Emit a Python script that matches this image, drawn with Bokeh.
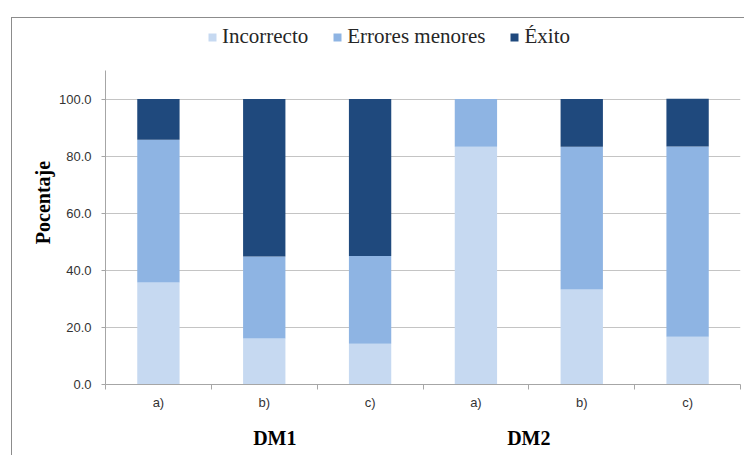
from bokeh.plotting import figure
from bokeh.models import (ColumnDataSource, Range1d, FixedTicker, LinearAxis, Legend,
                          LegendItem, NumeralTickFormatter)
from bokeh.embed import file_html
from bokeh.resources import INLINE

# ---- data ----
groups = ["DM1", "DM2"]
items = ["a)", "b)", "c)", "a)", "b)", "c)"]
series = ["Incorrecto", "Errores menores", "Éxito"]
incorrecto = [35.7, 16.1, 14.3, 83.3, 33.3, 16.7]
errores = [50.0, 28.7, 30.7, 16.7, 50.0, 66.7]
exito = [14.3, 55.2, 55.0, 0.0, 16.7, 16.7]
y_ticks = [0, 20, 40, 60, 80, 100]
y_label = "Pocentaje"
y_axis_max = 110
group_label_pos = [1.6, 4]

colors = ["#C6D9F1", "#8EB4E3", "#1F497D"]

x = [i + 0.5 for i in range(len(items))]
source = ColumnDataSource(dict(x=x, Incorrecto=incorrecto, Errores=errores, Exito=exito))

W, H = 744, 455
# frame extends above the value axis so the legend can live inside it
frame_top, axis_top, frame_bottom = 20, 70, 384  # canvas pixels
y_end = y_axis_max * (frame_bottom - frame_top) / (frame_bottom - axis_top)

p = figure(width=W, height=H, output_backend="svg", toolbar_location=None,
           x_range=Range1d(0, len(items)), y_range=Range1d(0, y_end),
           min_border_left=105, min_border_right=4, min_border_top=frame_top,
           min_border_bottom=H - frame_bottom, x_axis_type=None)
p.outline_line_color = None
p.background_fill_color = "white"
p.border_fill_color = None
# chart outer border (left and top edges)
p.styles = {"box-shadow": "inset 11px 17px 0 0 #ffffff, inset 12px 18px 0 0 #8c8c8c"}

rs = p.vbar_stack(["Incorrecto", "Errores", "Exito"], x="x", width=0.4, source=source,
                  color=colors, line_color=None)

# y axis
yax = p.yaxis[0]
yax.bounds = (0, y_axis_max)
yax.ticker = FixedTicker(ticks=y_ticks)
yax.formatter = NumeralTickFormatter(format="0.0")
yax.major_label_text_font = "Liberation Sans"
yax.major_label_text_font_size = "13px"
yax.major_label_text_color = "#333333"
yax.major_label_standoff = 10
yax.major_tick_out = 4
yax.major_tick_in = 0
yax.minor_tick_out = 0
yax.minor_tick_in = 0
yax.axis_line_color = "#a6a6a6"
yax.major_tick_line_color = "#a6a6a6"
yax.axis_label = y_label
yax.axis_label_text_font = "Liberation Serif"
yax.axis_label_text_font_style = "bold"
yax.axis_label_text_font_size = "20px"
yax.axis_label_text_color = "#000000"
yax.axis_label_standoff = 2

p.ygrid.ticker = FixedTicker(ticks=y_ticks)
p.ygrid.grid_line_color = "#c4c4c4"
p.xgrid.grid_line_color = None

# x axis with item labels
xax = LinearAxis(ticker=FixedTicker(ticks=x, minor_ticks=list(range(len(items) + 1))),
                 major_label_overrides={xv: lab for xv, lab in zip(x, items)})
xax.major_tick_out = 0
xax.major_tick_in = 0
xax.minor_tick_out = 5
xax.minor_tick_in = 0
xax.minor_tick_line_color = "#a6a6a6"
xax.axis_line_color = "#a6a6a6"
xax.major_label_text_font = "Liberation Sans"
xax.major_label_text_font_size = "13px"
xax.major_label_text_color = "#333333"
xax.major_label_standoff = 5
p.add_layout(xax, "below")

# group labels axis
gax = LinearAxis(ticker=FixedTicker(ticks=group_label_pos),
                 major_label_overrides={gp: g for gp, g in zip(group_label_pos, groups)})
gax.major_tick_out = 0
gax.major_tick_in = 0
gax.minor_tick_out = 0
gax.minor_tick_in = 0
gax.axis_line_color = None
gax.major_label_text_font = "Liberation Serif"
gax.major_label_text_font_style = "bold"
gax.major_label_text_font_size = "20px"
gax.major_label_text_color = "#000000"
gax.major_label_standoff = 14
p.add_layout(gax, "below")

# legend
legend = Legend(items=[LegendItem(label=s, renderers=[r]) for s, r in zip(series, rs)],
                location=(102, 335), orientation="horizontal")
legend.padding = 0
legend.margin = 0
legend.spacing = 24
legend.label_standoff = 5
legend.glyph_width = 10
legend.glyph_height = 10
legend.label_text_font = "Liberation Serif"
legend.label_text_font_size = "21px"
legend.label_text_color = "#262626"
legend.border_line_color = None
legend.background_fill_alpha = 0
p.add_layout(legend)

open("out.html", "w").write(file_html(p, INLINE))
